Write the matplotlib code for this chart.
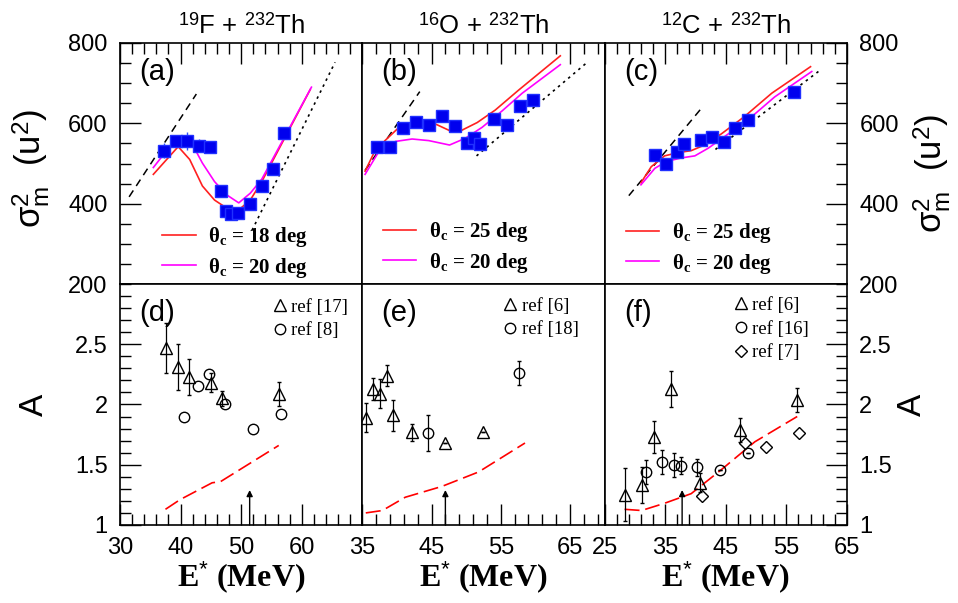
import numpy as np
import matplotlib
matplotlib.use("Agg")
import matplotlib.pyplot as plt
from matplotlib.ticker import MultipleLocator, FixedLocator

plt.rcParams['font.family'] = ['Liberation Sans', 'DejaVu Sans']
plt.rcParams['mathtext.fontset'] = 'custom'
plt.rcParams['mathtext.rm'] = 'Liberation Sans'
plt.rcParams['mathtext.it'] = 'Liberation Serif:italic'
plt.rcParams['mathtext.bf'] = 'Liberation Serif:bold'

# ---------------- data: top row (sigma_m^2) ----------------
titles = [r'$^{19}$F + $^{232}$Th', r'$^{16}$O + $^{232}$Th', r'$^{12}$C + $^{232}$Th']
top_tags = ['(a)', '(b)', '(c)']
bot_tags = ['(d)', '(e)', '(f)']

E_a = [37.3, 39.3, 41.0, 43.0, 44.8, 46.7, 47.5, 48.4, 49.4, 51.4, 53.4, 55.2, 57.1]
S_a = [532, 555, 556, 544, 540, 431, 383, 375, 378, 399, 444, 486, 575]
err_a = [18, 14, 22, 16, 12, 10, 10, 10, 10, 10, 10, 10, 14]

E_b = [37.1, 39.0, 40.9, 42.7, 44.6, 46.5, 48.4, 50.1, 51.2, 52.0, 54.0, 55.9, 57.8, 59.6]
S_b = [540, 540, 589, 604, 597, 618, 593, 550, 563, 549, 610, 596, 644, 658]
err_b = [10, 10, 12, 10, 10, 10, 10, 10, 10, 10, 10, 10, 10, 10]

E_c = [33.3, 35.2, 37.0, 38.1, 40.9, 42.7, 44.7, 46.6, 48.6, 56.2]
S_c = [521, 500, 529, 549, 559, 567, 553, 588, 609, 678]
err_c = [12, 14, 10, 10, 10, 10, 10, 10, 10, 10]

# calculations, two critical angles per panel
th_labels = [['18', '20'], ['25', '20'], ['25', '20']]
calc1_E = [[35.5, 39.6, 41.5, 43.6, 45.6, 47.6, 49.4, 51.5, 53.4, 61.4],
           [35.4, 36.9, 38.4, 40.3, 43.4, 45.6, 47.6, 49.4, 51.6, 54.2, 57.6, 63.6],
           [31.0, 32.7, 34.9, 37.1, 39.3, 41.5, 44.3, 48.1, 52.6, 59.0]]
calc1_S = [[473, 542, 510, 444, 409, 389, 382, 409, 455, 684],
           [481, 534, 559, 590, 608, 598, 582, 583, 602, 633, 683, 768],
           [452, 492, 519, 527, 532, 546, 574, 617, 675, 741]]
calc2_E = [[35.5, 39.6, 41.5, 43.6, 45.6, 47.6, 49.6, 51.5, 53.4, 61.6],
           [35.4, 37.4, 39.8, 42.2, 44.6, 47.6, 49.9, 52.3, 55.2, 58.1, 63.6],
           [31.0, 33.3, 35.2, 37.7, 39.9, 42.1, 44.8, 48.7, 53.1, 59.2]]
calc2_S = [[490, 569, 560, 501, 455, 422, 402, 426, 461, 690],
           [473, 530, 555, 561, 557, 546, 563, 590, 631, 675, 746],
           [447, 488, 505, 514, 519, 538, 567, 609, 666, 729]]
# limiting lines (dashed at low E, dotted at high E)
dash_E = [[31.5, 42.6], [35.4, 43.3], [29.0, 40.9]]
dash_S = [[417, 673], [483, 679], [420, 636]]
dot_E = [[51.8, 65.5], [51.5, 67.5], [43.3, 60.3]]
dot_S = [[334, 752], [519, 752], [535, 729]]

# ---------------- data: bottom row (anisotropy A) ----------------
d_tri_E = [37.6, 39.5, 41.4, 45.0, 46.9, 56.2]
d_tri_A = [2.47, 2.31, 2.23, 2.18, 2.05, 2.09]
d_tri_err = [0.21, 0.19, 0.15, 0.08, 0.06, 0.10]
d_cir_E = [40.5, 42.8, 44.7, 47.4, 52.0, 56.6]
d_cir_A = [1.90, 2.15, 2.25, 2.00, 1.80, 1.92]
d_calc_E = [37.5, 39.9, 45.2, 46.6, 56.2]
d_calc_A = [1.13, 1.21, 1.35, 1.36, 1.66]

e_tri_E = [35.6, 36.5, 37.5, 38.5, 39.4, 42.2, 46.9, 52.4]
e_tri_A = [1.89, 2.13, 2.09, 2.24, 1.91, 1.77, 1.68, 1.77]
e_tri_err = [0.12, 0.09, 0.12, 0.09, 0.13, 0.07, 0.0, 0.0]
e_cir_E = [44.5, 57.6]
e_cir_A = [1.76, 2.26]
e_cir_err = [0.15, 0.10]
e_calc_E = [35.5, 37.9, 41.2, 46.5, 51.8, 58.5]
e_calc_A = [1.10, 1.12, 1.23, 1.32, 1.44, 1.68]

f_tri_E = [28.3, 31.2, 33.2, 36.0, 40.7, 47.3, 56.8]
f_tri_A = [1.25, 1.33, 1.73, 2.13, 1.35, 1.79, 2.04]
f_tri_err = [0.22, 0.15, 0.13, 0.15, 0.08, 0.10, 0.10]
f_cir_E = [31.9, 34.5, 36.4, 37.6, 40.3, 44.1, 48.7]
f_cir_A = [1.44, 1.52, 1.50, 1.49, 1.48, 1.46, 1.60]
f_cir_err = [0.10, 0.10, 0.10, 0.07, 0.07, 0.0, 0.0]
f_dia_E = [41.1, 48.1, 51.7, 57.1]
f_dia_A = [1.24, 1.68, 1.65, 1.76]
f_calc_E = [28.3, 31.1, 34.9, 39.3, 44.3, 49.8, 56.8]
f_calc_A = [1.13, 1.12, 1.18, 1.26, 1.46, 1.69, 1.90]

arrow_E = [51.4, 47.0, 37.8]
arrow_A = 1.29

xlims = [(30, 70), (35, 70), (25, 65)]
xmajor = [[30, 40, 50, 60], [35, 45, 55, 65], [25, 35, 45, 55, 65]]

# ---------------- figure ----------------
fig = plt.figure(figsize=(9.58, 6.03), dpi=100)
L, W = 0.1253, 0.2529
B_bot, B_top, H = 0.1294, 0.529, 0.3997

tick_fs = 17
serif_b = {'family': 'Liberation Serif', 'weight': 'bold', 'size': 15}
serif_r = {'family': 'Liberation Serif', 'size': 13.5}


def style(ax, col, row):
    ax.set_xlim(*xlims[col])
    ax.xaxis.set_major_locator(FixedLocator(xmajor[col]))
    ax.xaxis.set_minor_locator(MultipleLocator(2, offset=xlims[col][0] % 2))
    for s in ax.spines.values():
        s.set_linewidth(1.2)
    ax.tick_params(which='both', direction='in', width=1.0,
                   top=(row == 0), bottom=(row == 1),
                   left=(col == 0), right=(col == 2),
                   labelbottom=(row == 1), labeltop=False,
                   labelleft=(col == 0), labelright=(col == 2),
                   labelsize=tick_fs, pad=9)
    ax.tick_params(which='major', length=15)
    ax.tick_params(which='minor', length=8)


sig_label = r'σ$_\mathrm{m}^{2}$  (u$^{2}$)'
top_data = [(E_a, S_a, err_a), (E_b, S_b, err_b), (E_c, S_c, err_c)]

for col in range(3):
    # ---- top panel ----
    ax = fig.add_axes([L + col * W, B_top, W, H])
    style(ax, col, 0)
    ax.set_ylim(200, 800)
    ax.yaxis.set_major_locator(FixedLocator([200, 400, 600, 800]))
    ax.yaxis.set_minor_locator(MultipleLocator(50))

    ax.plot(dash_E[col], dash_S[col], color='k', lw=1.1, dashes=(5, 3.5))
    ax.plot(dot_E[col], dot_S[col], color='k', lw=1.2, dashes=(1.5, 2.5))
    l1, = ax.plot(calc1_E[col], calc1_S[col], color='#ff2020', lw=1.2)
    l2, = ax.plot(calc2_E[col], calc2_S[col], color='#ff00ff', lw=1.2)
    E, S, err = top_data[col]
    ax.errorbar(E, S, yerr=err, fmt='s', ms=8, color='#0000ee', mec='#2030ff',
                ecolor='#3050ff', elinewidth=1.0, capsize=0, zorder=5)

    ax.legend([l1, l2], [r'θ$_\mathbf{c}$ = %s deg' % t for t in th_labels[col]],
              loc='center left', bbox_to_anchor=([0.174, 0.086, 0.087][col],
                                                 [0.131, 0.151, 0.147][col]),
              frameon=False, prop=serif_b, handlelength=1.6, handletextpad=0.6,
              labelspacing=0.3, borderpad=0, borderaxespad=0)
    ax.text(0.08, 0.88, top_tags[col], transform=ax.transAxes, fontsize=21,
            ha='left', va='center')
    ax.set_title(titles[col], fontsize=18.5, pad=7)

    if col == 0:
        ax.set_ylabel(sig_label, fontsize=25)
        ax.yaxis.set_label_coords(-0.28, 0.48)
    if col == 2:
        ax.yaxis.set_label_position('right')
        ax.set_ylabel(sig_label, fontsize=25)
        ax.yaxis.set_label_coords(1.265, 0.46)

    # ---- bottom panel ----
    ax = fig.add_axes([L + col * W, B_bot, W, H])
    style(ax, col, 1)
    ax.set_ylim(1, 3)
    ax.yaxis.set_major_locator(FixedLocator([1, 1.5, 2, 2.5]))
    ax.yaxis.set_minor_locator(MultipleLocator(0.1))
    ax.yaxis.set_major_formatter(matplotlib.ticker.FormatStrFormatter('%g'))

    ebk = dict(color='k', mfc='none', mec='k', ecolor='k', elinewidth=0.9,
               capsize=1.5, mew=1.0, ls='none')
    if col == 0:
        ax.plot(d_calc_E, d_calc_A, color='#ff0000', lw=1.2, dashes=(9, 3.5))
        h1 = ax.errorbar(d_tri_E, d_tri_A, yerr=d_tri_err, marker='^', ms=9, **ebk)
        h2, = ax.plot(d_cir_E, d_cir_A, 'o', ms=7.5, mfc='none', mec='k', mew=1.0)
        hs, labs = [h1, h2], ['ref [17]', 'ref [8]']
        lx, ly = 0.628, 0.855
    elif col == 1:
        ax.plot(e_calc_E, e_calc_A, color='#ff0000', lw=1.2, dashes=(9, 3.5))
        h1 = ax.errorbar(e_tri_E, e_tri_A, yerr=e_tri_err, marker='^', ms=9, **ebk)
        h2 = ax.errorbar(e_cir_E, e_cir_A, yerr=e_cir_err, marker='o', ms=7.5, **ebk)
        hs, labs = [h1, h2], ['ref [6]', 'ref [18]']
        lx, ly = 0.58, 0.859
    else:
        ax.plot(f_calc_E, f_calc_A, color='#ff0000', lw=1.2, dashes=(9, 3.5))
        h1 = ax.errorbar(f_tri_E, f_tri_A, yerr=f_tri_err, marker='^', ms=9, **ebk)
        h2 = ax.errorbar(f_cir_E, f_cir_A, yerr=f_cir_err, marker='o', ms=7.5, **ebk)
        h3, = ax.plot(f_dia_E, f_dia_A, 'D', ms=6.5, mfc='none', mec='k', mew=1.0)
        hs, labs = [h1, h2, h3], ['ref [6]', 'ref [16]', 'ref [7]']
        lx, ly = 0.533, 0.813

    ax.annotate('', xy=(arrow_E[col], arrow_A), xytext=(arrow_E[col], 1.0),
                arrowprops=dict(arrowstyle='-|>', color='k', lw=1.0,
                                mutation_scale=9, shrinkA=0, shrinkB=0))

    hm = []
    for h in hs:
        hm.append(h[0] if isinstance(h, matplotlib.container.ErrorbarContainer) else h)
    ax.legend(hm, labs, loc='center left', bbox_to_anchor=(lx, ly), frameon=False,
              prop=serif_r, handlelength=0.8, handletextpad=0.2, labelspacing=0.35,
              borderpad=0, borderaxespad=0, numpoints=1)
    ax.text(0.08, 0.88, bot_tags[col], transform=ax.transAxes, fontsize=21,
            ha='left', va='center')
    ax.set_xlabel(r'E$^{*}$ (MeV)', fontfamily='Liberation Serif',
                  fontweight='bold', fontsize=23, labelpad=0)
    if col == 0:
        ax.set_ylabel('A', fontsize=24)
        ax.yaxis.set_label_coords(-0.29, 0.5)
    if col == 2:
        ax.yaxis.set_label_position('right')
        ax.set_ylabel('A', fontsize=24)
        ax.yaxis.set_label_coords(1.205, 0.5)

fig.savefig('out.png', dpi=100)
